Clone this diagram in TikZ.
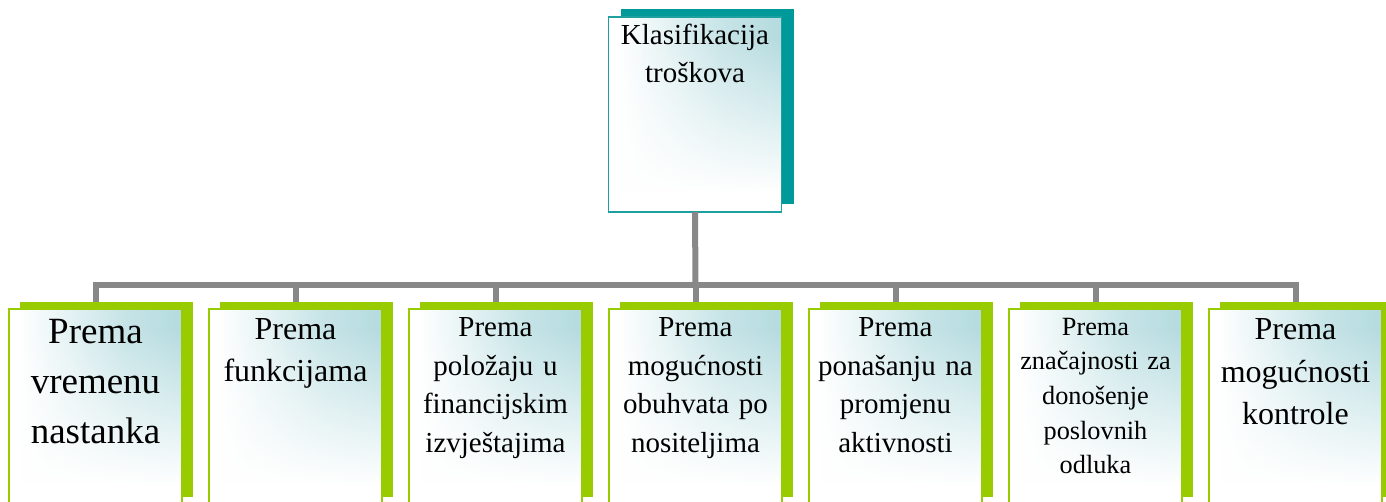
\documentclass[tikz,border=0pt]{standalone}
\usepackage{fontspec}
\setmainfont{Liberation Serif}
\usetikzlibrary{fadings}
\definecolor{tealS}{RGB}{0,153,153}
\definecolor{tealB}{RGB}{30,160,160}
\definecolor{greenS}{RGB}{153,204,0}
\definecolor{tealL}{RGB}{180,219,223}
\definecolor{connG}{RGB}{136,136,136}
\pgfdeclarehorizontalshading{hglow}{100bp}{color(0bp)=(white); color(28bp)=(white); color(58bp)=(tealL!75!white); color(75bp)=(tealL); color(100bp)=(tealL)}
\pgfdeclareverticalshading{vfadeshade}{100bp}{color(0bp)=(pgftransparent!0); color(30bp)=(pgftransparent!0); color(70bp)=(pgftransparent!100); color(100bp)=(pgftransparent!100)}
\pgfdeclarefading{vfade}{\pgfuseshading{vfadeshade}}
\begin{document}
\begin{tikzpicture}[x=1pt,y=-1pt,
  shadowbox/.style={fill=#1, draw=none, minimum width=173pt, minimum height=195pt, inner sep=0pt, outer sep=0pt},
  frontbox/.style={draw=#1, fill=white, line width=1.5pt, minimum width=173pt, minimum height=195pt, inner sep=0pt, outer sep=0pt,
    path picture={
      \shade[shading=hglow] (path picture bounding box.south west) rectangle (path picture bounding box.north east);
      \fill[white, path fading=vfade] (path picture bounding box.south west) rectangle (path picture bounding box.north east);
    }},
  boxtext/.style={anchor=base, text width=178pt, align=center, inner sep=0pt, text=black},
  conn/.style={draw=connG, line width=6pt, line join=miter}
]
\useasboundingbox (0,0) rectangle (1386,502);

% top box
\node[shadowbox=tealS] (ts) at (707,107) {};
\node[frontbox=tealB] (tb) at (695,114.5) {};
\node[boxtext, font={\fontsize{29}{38}\selectfont}] (tt) at (695,45) {Klasifikacija\\troškova};

% bottom boxes
\foreach \i/\c in {1/95.5,2/295.5,3/495.5,4/695.5,5/895.5,6/1095.5,7/1295.5}{
  \node[shadowbox=greenS] (s\i) at (\c+11,399.5) {};
  \node[frontbox=greenS] (b\i) at (\c,406.5) {};
}
\node[boxtext, font={\fontsize{37}{50}\selectfont}] (t1) at (95.5,344) {Prema\\vremenu\\nastanka};
\node[boxtext, font={\fontsize{32}{42}\selectfont}] (t2) at (295.5,340) {Prema\\funkcijama};
\node[boxtext, font={\fontsize{29}{38.5}\selectfont}] (t3) at (495.5,337) {Prema\\položaju u\\financijskim\\izvještajima};
\node[boxtext, font={\fontsize{29}{38.5}\selectfont}] (t4) at (695.5,337) {Prema\\mogućnosti\\obuhvata po\\nositeljima};
\node[boxtext, font={\fontsize{29}{38.5}\selectfont}] (t5) at (895.5,337) {Prema\\ponašanju na\\promjenu\\aktivnosti};
\node[boxtext, font={\fontsize{26.3}{34.7}\selectfont}] (t6) at (1095.5,335) {Prema\\značajnosti za\\donošenje\\poslovnih\\odluka};
\node[boxtext, font={\fontsize{32}{42.5}\selectfont}] (t7) at (1295.5,340) {Prema\\mogućnosti\\kontrole};

% connectors
\coordinate (hub) at (695.5,285);
\draw[conn] (tb.south) -- (hub);
\draw[conn] (b1.north |- s1.north) |- (b7.north |- hub) -- (b7.north |- s7.north);
\foreach \i in {2,...,6}{
  \draw[conn] (b\i.north |- hub) -- (b\i.north |- s\i.north);
}
\end{tikzpicture}
\end{document}
